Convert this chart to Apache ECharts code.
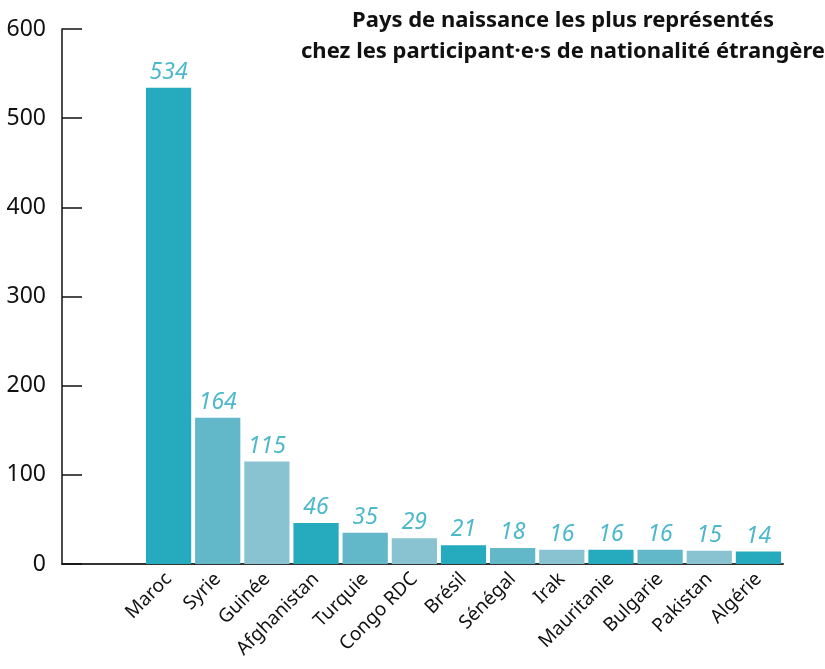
<!DOCTYPE html>
<html>
<head>
<meta charset="utf-8">
<script src="https://cdn.jsdelivr.net/npm/echarts@6/dist/echarts.min.js"></script>
<style>
  html, body { margin: 0; padding: 0; background: #fff; }
  #chart { width: 825px; height: 669px; }
</style>
</head>
<body>
<div id="chart"></div>
<script>
var pays = ['Maroc', 'Syrie', 'Guinée', 'Afghanistan', 'Turquie', 'Congo RDC', 'Brésil',
            'Sénégal', 'Irak', 'Mauritanie', 'Bulgarie', 'Pakistan', 'Algérie'];
var effectifs = [534, 164, 115, 46, 35, 29, 21, 18, 16, 16, 16, 15, 14];
var yTicks = [0, 100, 200, 300, 400, 500, 600];

var couleurs = ['#25aabe', '#62b7c8', '#89c3d2'];

var myChart = echarts.init(document.getElementById('chart'));

var option = {
    animation: false,
    textStyle: { fontFamily: 'Noto Sans' },
    title: {
        text: 'Pays de naissance les plus représentés\nchez les participant·e·s de nationalité étrangère',
        left: 558,
        top: 0,
        textAlign: 'center',
        textStyle: {
            fontFamily: 'Noto Sans',
            fontWeight: 'bold',
            fontSize: 22,
            lineHeight: 31,
            color: '#111'
        }
    },
    grid: [
        { left: 144, right: 42, top: 29, bottom: 105 },
        { left: 62, right: 42, top: 29, bottom: 105 }
    ],
    xAxis: [{
        type: 'category',
        gridIndex: 0,
        data: pays,
        axisLine: { show: false },
        axisTick: { show: false },
        axisLabel: {
            rotate: 45,
            interval: 0,
            margin: 12,
            fontSize: 19,
            color: '#111'
        }
    }, {
        type: 'value',
        gridIndex: 1,
        axisLine: { show: true, lineStyle: { color: '#333', width: 2 } },
        axisTick: { show: false },
        axisLabel: { show: false },
        splitLine: { show: false }
    }],
    yAxis: [{
        type: 'value',
        gridIndex: 0,
        min: yTicks[0],
        max: yTicks[yTicks.length - 1],
        interval: 100,
        offset: 82,
        axisLine: { show: true, lineStyle: { color: '#111', width: 1.5 } },
        axisTick: { show: true, inside: true, length: 20, lineStyle: { color: '#111', width: 1.5 } },
        axisLabel: { margin: 16, fontSize: 23, color: '#111' },
        splitLine: { show: false }
    }, {
        type: 'value',
        gridIndex: 1,
        show: false
    }],
    series: [{
        type: 'bar',
        xAxisIndex: 0,
        yAxisIndex: 0,
        barCategoryGap: '8%',
        data: effectifs.map(function (v, i) {
            return { value: v, itemStyle: { color: couleurs[i % 3] } };
        }),
        label: {
            show: true,
            position: 'top',
            distance: 4,
            fontSize: 23,
            fontStyle: 'italic',
            color: '#4db8cb'
        }
    }]
};

myChart.setOption(option);
</script>
</body>
</html>
